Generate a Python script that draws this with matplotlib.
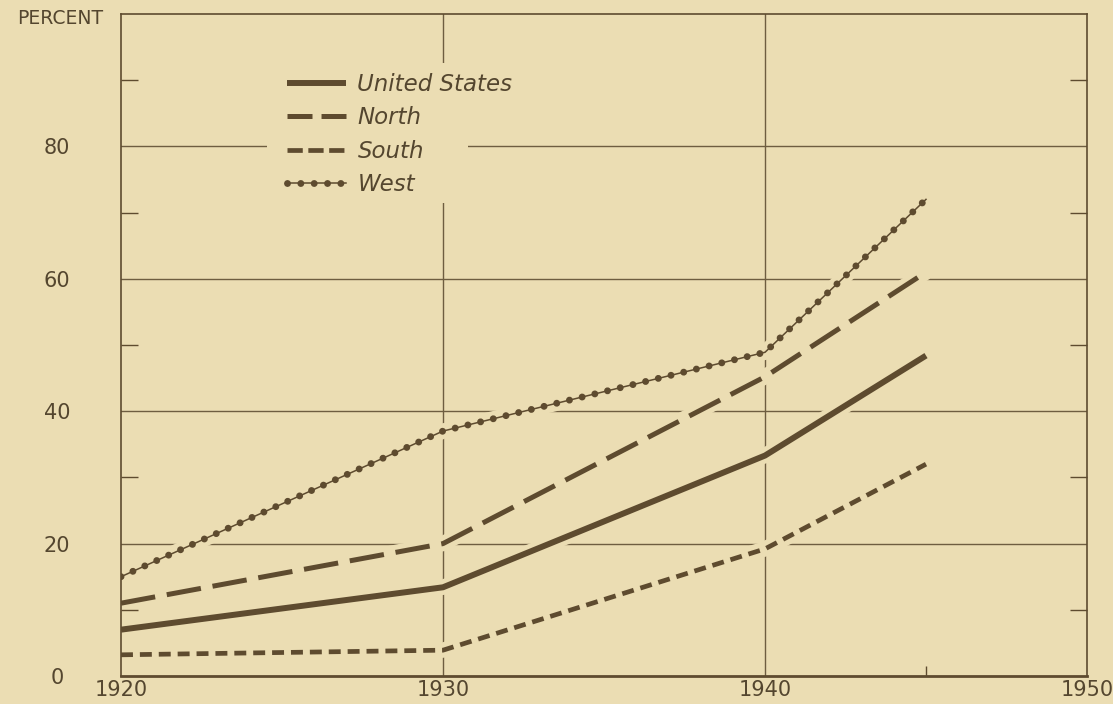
import matplotlib
matplotlib.use('Agg')
import matplotlib.pyplot as plt
from matplotlib.lines import Line2D
from matplotlib.patches import Rectangle

# ---- data ----
years = [1920, 1930, 1940, 1945]
united_states = [7.0, 13.4, 33.3, 48.4]
north = [11.0, 20.0, 45.2, 61.0]
south = [3.2, 3.9, 19.2, 32.0]
west = [15.0, 37.0, 48.9, 72.0]

series_labels = ['United States', 'North', 'South', 'West']
x_ticks = [1920, 1930, 1940, 1950]
x_minor = [1945]
y_ticks = [0, 20, 40, 60, 80]
y_minor = [10, 30, 50, 70, 90]
x_grid = [1930, 1940]
y_grid = [20, 40, 60, 80]

BG = '#EBDDB3'
INK = '#5E4B2F'
GRID = '#6E5D40'
TEXT = '#54462F'
TICK_FONT = 'DejaVu Sans'

plt.rcParams['lines.scale_dashes'] = False

fig = plt.figure(figsize=(11.13, 7.04), dpi=100, facecolor=BG)
ax = fig.add_axes([121 / 1113, 28 / 704, 966 / 1113, 662 / 704], facecolor=BG)
ax.set_xlim(1920, 1950)
ax.set_ylim(0, 100)
ax.set_axisbelow(False)

# grid
for g in y_grid:
    ax.axhline(g, color=GRID, lw=1.0, zorder=1)
for g in x_grid:
    ax.axvline(g, color=GRID, lw=1.0, zorder=1)

# blank area behind the legend (breaks the grid there)
ax.add_patch(Rectangle((0.151, 0.7145), 0.208, 0.2115, transform=ax.transAxes,
                       facecolor=BG, edgecolor='none', zorder=1.2))

# halos that break the grid where lines cross
for s in (united_states, north, south, west):
    ax.plot(years, s, color=BG, lw=11, solid_capstyle='butt',
            solid_joinstyle='round', zorder=1.5)

ax.plot(years, united_states, color=INK, lw=4.3, solid_capstyle='butt', zorder=2)
ax.plot(years, north, color=INK, lw=3.6, dashes=(25, 8.5),
        dash_capstyle='butt', zorder=2)
ax.plot(years, south, color=INK, lw=3.4, dashes=(8.6, 5),
        dash_capstyle='butt', zorder=2)
# West: thin line with evenly spaced beads
ax.plot(years, west, color=INK, lw=1.1, zorder=2)
ax.plot(years, west, color=INK, lw=5.0, dashes=(0.01, 9.4),
        dash_capstyle='round', zorder=2)

# ticks
ax.set_xticks(x_ticks)
ax.set_xticks(x_minor, minor=True)
ax.set_yticks(y_ticks)
ax.set_yticks(y_minor, minor=True)
ax.tick_params(which='major', length=0, labelsize=15, labelcolor=TEXT)
ax.tick_params(axis='x', which='major', pad=3)
ax.tick_params(axis='y', which='major', pad=46)
ax.tick_params(axis='y', which='minor', direction='in', length=12.5, width=1.0,
               color=INK, left=True, right=True)
ax.tick_params(axis='x', which='minor', direction='in', length=7.5, width=1.0,
               color=INK, bottom=True, top=False)
for lab in ax.get_xticklabels() + ax.get_yticklabels():
    lab.set_fontfamily(TICK_FONT)
for lab in ax.get_yticklabels():
    lab.set_horizontalalignment('center')

for side in ('left', 'right', 'top'):
    ax.spines[side].set_color(INK)
    ax.spines[side].set_linewidth(1.2)
ax.spines['bottom'].set_color(INK)
ax.spines['bottom'].set_linewidth(2.0)

# legend with proxies
h_us = Line2D([], [], color=INK, lw=4.3, solid_capstyle='butt')
h_n = Line2D([], [], color=INK, lw=3.6, dashes=(18, 6.5), dash_capstyle='butt')
h_s = Line2D([], [], color=INK, lw=3.4, dashes=(11, 4), dash_capstyle='butt')
h_w_line = Line2D([], [], color=INK, lw=1.1)
h_w_dots = Line2D([], [], color=INK, lw=5.0, dashes=(0.01, 9.6),
                  dash_capstyle='round')
leg = ax.legend([h_us, h_n, h_s, (h_w_line, h_w_dots)], series_labels,
                loc='upper left', bbox_to_anchor=(0.151, 0.9425),
                borderaxespad=0, borderpad=0.9, handlelength=2.55,
                handletextpad=0.5, labelspacing=0.46,
                frameon=False,
                prop={'family': 'DejaVu Sans', 'style': 'italic', 'size': 16.5})
for t in leg.get_texts():
    t.set_color(TEXT)

fig.text(103 / 1113, 1 - 19 / 704, 'PERCENT', ha='right', va='center',
         fontsize=13.5, color=TEXT, family=TICK_FONT)

fig.savefig('out.png', dpi=100, facecolor=BG)
